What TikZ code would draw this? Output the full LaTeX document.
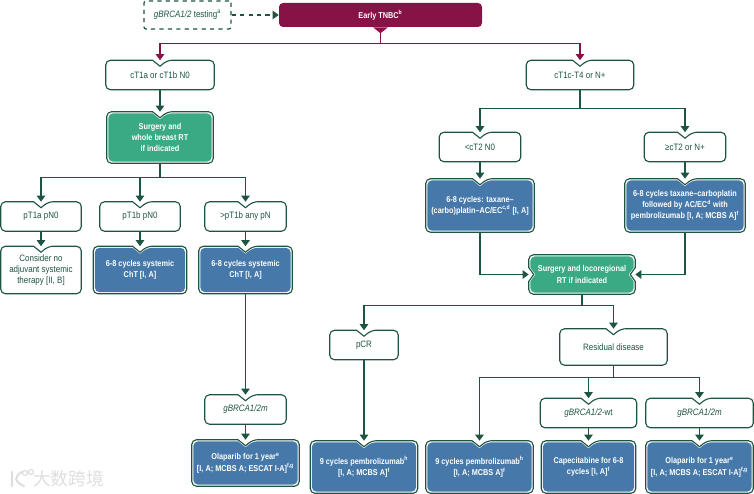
\documentclass[tikz,border=0pt]{standalone}
\usepackage{fontspec}
\setmainfont{Liberation Sans}[FakeStretch=0.86]
\newfontfamily\cjk{Noto Sans CJK SC}
\usetikzlibrary{arrows.meta, calc}
\definecolor{rootred}{RGB}{135, 18, 70}
\definecolor{linegreen}{RGB}{30, 85, 65}
\definecolor{stepgreen}{RGB}{58, 170, 133}
\definecolor{treatblue}{RGB}{70, 120, 170}
\definecolor{markgray}{RGB}{222, 222, 222}
\pgfdeclarelayer{background}
\pgfsetlayers{background,main}

% outline with a notch in the top edge, #2 = inset from the node border
\newcommand{\notchtop}[2]{($(#1.north)+(-7.5,#2)$) [rounded corners=1.2mm] -- ($(#1.north west)+(#2,#2)$) -- ($(#1.south west)+(#2,-#2)$) -- ($(#1.south east)+(-#2,-#2)$) -- ($(#1.north east)+(-#2,#2)$) -- ($(#1.north)+(7.5,#2)$) [sharp corners] -- ($(#1.north)+(0,6+#2)$) -- cycle}
% the same with notches in the two sides
\newcommand{\notchside}[2]{($(#1.west)+(#2,-7)$) [rounded corners=1.2mm] -- ($(#1.north west)+(#2,#2)$) -- ($(#1.north east)+(-#2,#2)$) [sharp corners] -- ($(#1.east)+(-#2,-7)$) -- ($(#1.east)+(-5-#2,0)$) -- ($(#1.east)+(-#2,7)$) [rounded corners=1.2mm] -- ($(#1.south east)+(-#2,-#2)$) -- ($(#1.south west)+(#2,-#2)$) [sharp corners] -- ($(#1.west)+(#2,7)$) -- ($(#1.west)+(5+#2,0)$) -- cycle}

\tikzset{
  size/.style 2 args={minimum width=#1*0.25mm, minimum height=#2*0.25mm},
  txt/.style={inner sep=0pt, align=center, font=\fontsize{6.6}{8}\selectfont},
  plainbox/.style={txt, text=linegreen},
  whitebox/.style={txt, text=white, font=\fontsize{6.05}{8}\selectfont\bfseries},
  arr/.style={-{Triangle[length=1.5mm, width=2.1mm]}, line width=0.8pt, draw=linegreen},
  outline/.style={draw=linegreen, line width=0.8pt, fill=white},
}

\begin{document}
\begin{tikzpicture}[x=0.25mm, y=-0.25mm]
  \useasboundingbox (0, 0) rectangle (754, 494);

  % Top row
  \node[plainbox, size={87}{28}, draw=linegreen, dashed, line width=0.9pt, rounded corners=0.5mm] (test) at (187.5, 15) {\textit{gBRCA1/2} testing\textsuperscript{a}};
  \node[whitebox, size={203}{24}, fill=rootred, rounded corners=1mm] (root) at (380.5, 15) {Early TNBC\textsuperscript{b}};
  \coordinate (roottip) at ($(root.south)+(0,6)$);

  % Left branch
  \node[plainbox, size={108}{29}] (cta) at (160, 75) {cT1a or cT1b N0};
  \node[whitebox, size={106}{51}] (surgl) at (160, 137.5) {Surgery and\\whole breast RT\\if indicated};

  \node[plainbox, size={80}{29}] (pa) at (41, 216.5) {pT1a pN0};
  \node[plainbox, size={80}{29}] (pb) at (140, 216.5) {pT1b pN0};
  \node[plainbox, size={81}{29}] (pc) at (245.5, 216.5) {>pT1b any pN};

  \node[plainbox, size={80}{47}] (none) at (41, 270) {Consider no\\adjuvant systemic\\therapy [II, B]};
  \node[whitebox, size={93}{47}] (chta) at (140, 270) {6-8 cycles systemic\\ChT [I, A]};
  \node[whitebox, size={93}{47}] (chtb) at (245.5, 270) {6-8 cycles systemic\\ChT [I, A]};

  \node[plainbox, size={81}{29}] (brcal) at (245.5, 409.5) {\textit{gBRCA1/2m}};
  \node[whitebox, size={107}{46}] (olal) at (245.5, 463) {Olaparib for 1 year\textsuperscript{e}\\{}[I, A; MCBS A; ESCAT I-A]\textsuperscript{f,g}};

  % Right branch
  \node[plainbox, size={107}{29}] (ctc) at (580, 75) {cT1c-T4 or N+};
  \node[plainbox, size={81}{29}] (small) at (480, 147) {<cT2 N0};
  \node[plainbox, size={81}{29}] (large) at (685, 147) {≥cT2 or N+};
  \node[whitebox, size={108}{53}] (neoa) at (480, 205.5) {6-8 cycles: taxane–\\(carbo)platin–AC/EC\textsuperscript{c,d} [I, A]};
  \node[whitebox, size={120}{53}] (neob) at (685, 205.5) {6-8 cycles taxane–carboplatin\\followed by AC/EC\textsuperscript{d} with\\pembrolizumab [I, A; MCBS A]\textsuperscript{f}};
  \node[whitebox, size={106}{39}] (surgr) at (582, 274.5) {Surgery and locoregional\\RT if indicated};

  \node[plainbox, size={68}{29}] (pcr) at (364, 345) {pCR};
  \node[plainbox, size={107}{36}] (resid) at (613.5, 347) {Residual disease};
  \node[plainbox, size={96}{29}] (wt) at (588.5, 413) {\textit{gBRCA1/2}-wt};
  \node[plainbox, size={107}{29}] (mut) at (699.5, 413) {\textit{gBRCA1/2m}};

  \node[whitebox, size={107}{52}] (pemba) at (364, 467) {9 cycles pembrolizumab\textsuperscript{h}\\{}[I, A; MCBS A]\textsuperscript{f}};
  \node[whitebox, size={107}{52}] (pembb) at (479.5, 467) {9 cycles pembrolizumab\textsuperscript{h}\\{}[I, A; MCBS A]\textsuperscript{f}};
  \node[whitebox, size={94}{52}] (cape) at (588.5, 467) {Capecitabine for 6-8\\cycles [I, A]\textsuperscript{f}};
  \node[whitebox, size={107}{52}] (olar) at (699.5, 467) {Olaparib for 1 year\textsuperscript{e}\\{}[I, A; MCBS A; ESCAT I-A]\textsuperscript{f,g}};

  % Connectors
  \draw[arr, dashed, line width=0.9pt] (test) -- (root);
  \draw[arr, draw=rootred] (roottip) -- ++(0, 10) -| (cta.north);
  \draw[arr, draw=rootred] (roottip) -- ++(0, 10) -| (ctc.north);
  \draw[arr] (cta) -- (surgl.north);
  \foreach \to in {pa, pb, pc} \draw[arr] (surgl.south) -- ++(0, 14.5) -| (\to.north);
  \draw[arr] (pa) -- (none.north);
  \draw[arr] (pb) -- (chta.north);
  \draw[arr] (pc) -- (chtb.north);
  \draw[arr] (chtb) -- (brcal.north);
  \draw[arr] (brcal) -- (olal.north);
  \foreach \to in {small, large} \draw[arr] (ctc.south) -- ++(0, 19) -| (\to.north);
  \draw[arr] (small) -- (neoa.north);
  \draw[arr] (large) -- (neob.north);
  \draw[arr] (neoa.south) |- (surgr.west);
  \draw[arr] (neob.south) |- (surgr.east);
  \foreach \to in {pcr, resid} \draw[arr] (surgr.south) -- ++(0, 11) -| (\to.north);
  \draw[arr] (pcr) -- (pemba.north);
  \foreach \to in {pembb, wt, mut} \draw[arr] (resid.south) -- ++(0, 12) -| (\to.north);
  \draw[arr] (wt) -- (cape.north);
  \draw[arr] (mut) -- (olar.north);

  % Watermark
  \node[txt, text=markgray, font=\cjk\fontsize{12.6}{14}\selectfont] (mark) at (68.5, 478.5) {大数跨境};
  \draw[markgray, line width=1.5pt, line cap=round] (12, 472) -- (12, 486) (22, 472) .. controls (14, 476) and (14, 482) .. (24, 486);
  \draw[markgray, line width=0.9pt] (25, 473) circle (2.5) (31, 472) circle (2.5);

  % Box outlines
  \begin{pgfonlayer}{background}
    \fill[rootred] ($(root.south)+(-7.5, 0)$) -- (roottip) -- ($(root.south)+(7.5, 0)$) -- cycle;
    \foreach \n in {cta, pa, pb, pc, none, brcal, ctc, small, large, pcr, resid, wt, mut}
      \draw[outline] \notchtop{\n}{0};
    \foreach \n in {chta, chtb, olal, neoa, neob, pemba, pembb, cape, olar} {
      \draw[outline] \notchtop{\n}{0};
      \fill[treatblue] \notchtop{\n}{1.6};
    }
    \draw[outline] \notchtop{surgl}{0};
    \fill[stepgreen] \notchtop{surgl}{1.6};
    \draw[outline] \notchside{surgr}{0};
    \fill[stepgreen] \notchside{surgr}{1.6};
  \end{pgfonlayer}
\end{tikzpicture}
\end{document}
